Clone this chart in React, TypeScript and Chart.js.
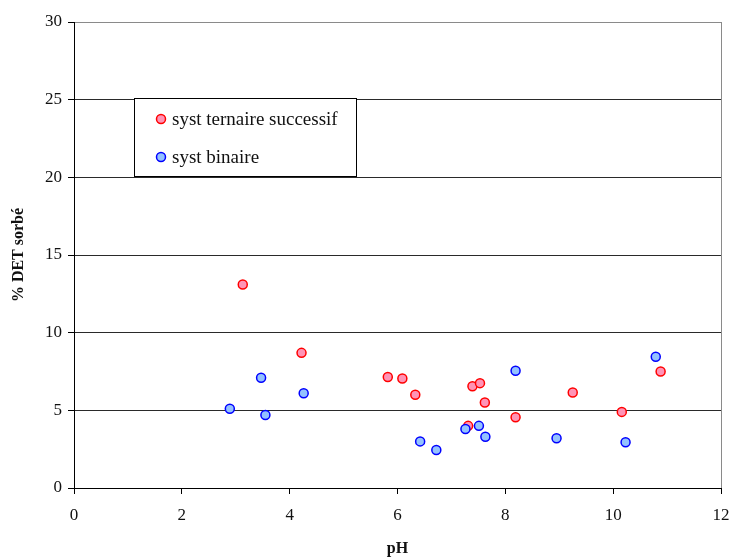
import React, { useEffect, useRef } from "react";
import { Chart, registerables } from "chart.js";

Chart.register(...registerables);

// pH and % DET sorbed, ternary successive system
const ternairePH = [3.13, 4.22, 5.82, 6.09, 6.33, 7.31, 7.39, 7.53, 7.62, 8.19, 9.25, 10.16, 10.88];
const ternaireDET = [13.1, 8.7, 7.15, 7.05, 6.0, 4.0, 6.55, 6.75, 5.5, 4.55, 6.15, 4.9, 7.5];

// pH and % DET sorbed, binary system
const binairePH = [2.89, 3.47, 3.55, 4.26, 6.42, 6.72, 7.26, 7.51, 7.63, 8.19, 8.95, 10.23, 10.79];
const binaireDET = [5.1, 7.1, 4.7, 6.1, 3.0, 2.45, 3.8, 4.0, 3.3, 7.55, 3.2, 2.95, 8.45];

const seriesNames = ["syst ternaire successif", "syst binaire"];
const xTicks = [0, 2, 4, 6, 8, 10, 12];
const yTicks = [0, 5, 10, 15, 20, 25, 30];

const FONT = "'Liberation Serif', 'Times New Roman', serif";
const RED = { border: "#FF0000", fill: "#FF94B6" };
const BLUE = { border: "#0000FF", fill: "#94C2FF" };

const toPoints = (xs: number[], ys: number[]) => xs.map((x, i) => ({ x, y: ys[i] }));

// Boxed legend drawn inside the plot area
const boxLegend = {
  id: "boxLegend",
  afterDraw(chart: any) {
    const ctx = chart.ctx as CanvasRenderingContext2D;
    ctx.save();
    ctx.fillStyle = "#FFFFFF";
    ctx.strokeStyle = "#000000";
    ctx.lineWidth = 1;
    ctx.fillRect(134.5, 98.5, 222, 78);
    ctx.strokeRect(134.5, 98.5, 222, 78);
    const items = [
      { label: seriesNames[0], c: RED, y: 119 },
      { label: seriesNames[1], c: BLUE, y: 157 },
    ];
    for (const it of items) {
      ctx.beginPath();
      ctx.arc(161, it.y, 4.5, 0, Math.PI * 2);
      ctx.fillStyle = it.c.fill;
      ctx.fill();
      ctx.lineWidth = 1.5;
      ctx.strokeStyle = it.c.border;
      ctx.stroke();
      ctx.fillStyle = "#111111";
      ctx.font = `19px ${FONT}`;
      ctx.textBaseline = "middle";
      ctx.textAlign = "left";
      ctx.fillText(it.label, 172, it.y + 1);
    }
    ctx.restore();
  },
};

export default function App() {
  const canvasRef = useRef<HTMLCanvasElement | null>(null);

  useEffect(() => {
    const canvas = canvasRef.current;
    if (!canvas) return;
    const chart = new Chart(canvas, {
      type: "scatter",
      data: {
        datasets: [
          {
            label: seriesNames[0],
            data: toPoints(ternairePH, ternaireDET),
            pointRadius: 4.5,
            pointBorderWidth: 1.5,
            pointBackgroundColor: RED.fill,
            pointBorderColor: RED.border,
            order: 1,
          },
          {
            label: seriesNames[1],
            data: toPoints(binairePH, binaireDET),
            pointRadius: 4.5,
            pointBorderWidth: 1.5,
            pointBackgroundColor: BLUE.fill,
            pointBorderColor: BLUE.border,
            order: 0,
          },
        ],
      },
      options: {
        responsive: false,
        animation: false,
        layout: { padding: { top: 22, right: 0, left: 0, bottom: 0 } },
        plugins: { legend: { display: false }, tooltip: { enabled: false } },
        scales: {
          x: {
            type: "linear",
            min: 0,
            max: 12,
            afterBuildTicks: (s: any) => {
              s.ticks = xTicks.map((v) => ({ value: v }));
            },
            afterFit: (s: any) => {
              s.height = 70;
              s.paddingRight = 10;
              s.paddingLeft = 0;
            },
            ticks: {
              font: { family: FONT, size: 17 },
              color: "#111111",
              padding: 11,
              maxRotation: 0,
            },
            grid: {
              drawOnChartArea: true,
              color: (c: any) => (c.tick && c.tick.value === 12 ? "#8a8a8a" : "rgba(0,0,0,0)"),
              tickColor: "#000000",
              tickLength: 6,
              lineWidth: 1,
            },
            border: { color: "#000000", width: 1 },
            title: {
              display: true,
              text: "pH",
              font: { family: FONT, size: 16, weight: "bold" },
              color: "#111111",
              padding: { top: 0, bottom: 0 },
            },
          },
          y: {
            type: "linear",
            min: 0,
            max: 30,
            afterBuildTicks: (s: any) => {
              s.ticks = yTicks.map((v) => ({ value: v }));
            },
            afterFit: (s: any) => {
              s.width = 74;
            },
            ticks: {
              font: { family: FONT, size: 17 },
              color: "#111111",
              padding: 6,
            },
            grid: {
              color: (c: any) => (c.tick && c.tick.value === 30 ? "#8a8a8a" : "#2a2a2a"),
              tickColor: "#000000",
              tickLength: 6,
              lineWidth: 1,
            },
            border: { color: "#000000", width: 1 },
            title: {
              display: true,
              text: "% DET sorbé",
              font: { family: FONT, size: 16, weight: "bold" },
              color: "#111111",
              padding: { top: 9, bottom: 0 },
            },
          },
        },
      },
      plugins: [boxLegend],
    });
    return () => chart.destroy();
  }, []);

  return (
    <div style={{ position: "absolute", left: 0, top: 0, width: 731, height: 558, background: "#FFFFFF" }}>
      <canvas ref={canvasRef} width={731} height={558} />
    </div>
  );
}
